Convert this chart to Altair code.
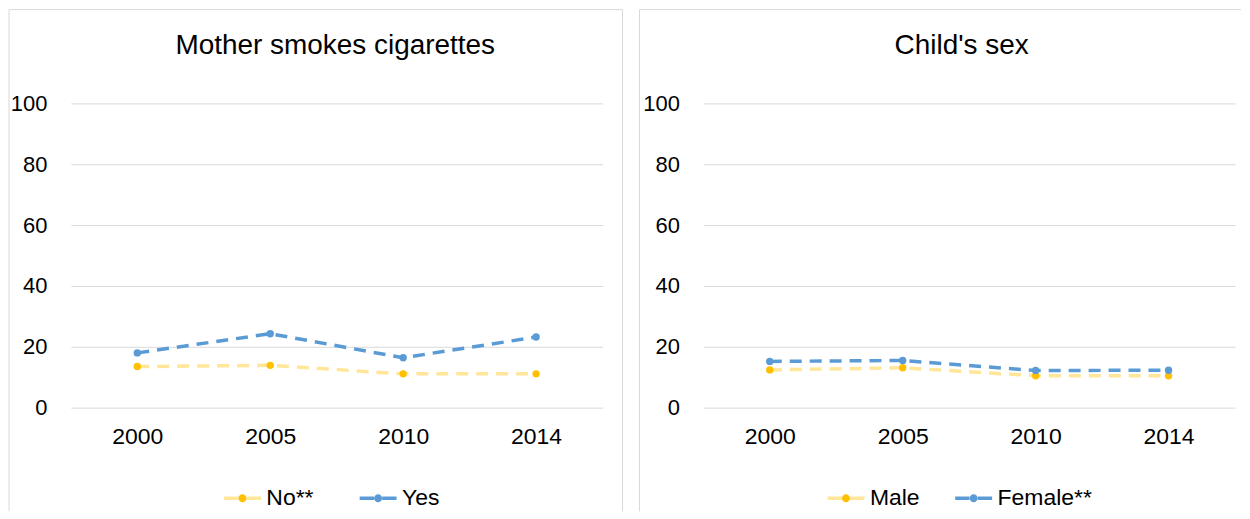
import altair as alt
import pandas as pd

years = ["2000", "2005", "2010", "2014"]

smoke_title = "Mother smokes cigarettes"
smoke_series = ["No**", "Yes"]
smoke_no = [13.5, 13.9, 11.1, 11.1]
smoke_yes = [18.0, 24.3, 16.4, 23.2]

sex_title = "Child's sex"
sex_series = ["Male", "Female**"]
sex_male = [12.4, 13.1, 10.5, 10.5]
sex_female = [15.2, 15.5, 12.2, 12.3]

line_colors = ["#FFE699", "#5B9BD5"]
marker_colors = ["#FFC000", "#5B9BD5"]

W, H = 533, 305
FONT = "Liberation Sans"
GRID = "#D9D9D9"

# legend symbols drawn at 4px per unit: a 37px line with a gap, and the dot in that gap
LINE_SYMBOL = "M-1,0L2.6,0M4.65,0L8.25,0"
DOT_SYMBOL = "M4.625,0A1,1,0,1,1,2.625,0A1,1,0,1,1,4.625,0Z"


def panel(title, names, first, second, legend_x, col_pad, left, right, title_x):
    df = pd.DataFrame({
        "year": years * 2,
        "value": first + second,
        "series": [names[0]] * 4 + [names[1]] * 4,
    })
    df["marker"] = df["series"]

    x = alt.X("year:O", title=None,
              scale=alt.Scale(type="point", padding=0.5),
              axis=alt.Axis(labelAngle=0, ticks=False, domain=False, grid=False,
                            labelPadding=18, labelFontSize=23))
    y = alt.Y("value:Q", title=None,
              scale=alt.Scale(domain=[0, 100], nice=False),
              axis=alt.Axis(values=[0, 20, 40, 60, 80, 100], ticks=False, domain=False,
                            grid=True, gridColor=GRID, labelPadding=24))

    leg = dict(orient="none", legendX=legend_x, legendY=384, direction="horizontal",
               title=None, labelFont=FONT, labelFontSize=23, labelColor="black",
               labelOffset=27, columnPadding=col_pad, symbolSize=64, padding=0)

    lines = alt.Chart(df).mark_line(strokeDash=[12, 8], strokeWidth=3.5).encode(
        x=x, y=y,
        stroke=alt.Stroke("series:N", sort=names, scale=alt.Scale(range=line_colors),
                          legend=alt.Legend(symbolType=LINE_SYMBOL, symbolStrokeWidth=3.5,
                                            symbolDash=[1, 0], **leg)),
    )
    dots = alt.Chart(df).mark_point(filled=True, size=55, opacity=1).encode(
        x=x, y=y,
        fill=alt.Fill("marker:N", sort=names, scale=alt.Scale(range=marker_colors),
                      legend=alt.Legend(symbolType=DOT_SYMBOL, labelOpacity=0,
                                        symbolStrokeWidth=0, **leg)),
    )

    one = pd.DataFrame({"k": [0]})
    top = -94
    bottom = 409
    frame = [
        alt.Chart(one).mark_rule(color=GRID, strokeWidth=1).encode(
            x=alt.value(left), x2=alt.value(right), y=alt.value(top), y2=alt.value(top)),
        alt.Chart(one).mark_rule(color=GRID, strokeWidth=1).encode(
            x=alt.value(left), x2=alt.value(left), y=alt.value(top), y2=alt.value(bottom)),
    ]
    if right >= 545:
        frame.append(alt.Chart(one).mark_rule(color=GRID, strokeWidth=1).encode(
            x=alt.value(right), x2=alt.value(right), y=alt.value(top), y2=alt.value(bottom)))

    heading = alt.Chart(one).mark_text(
        font=FONT, fontSize=28, color="black", align="center", baseline="alphabetic"
    ).encode(x=alt.value(title_x), y=alt.value(-50), text=alt.value(title))

    return alt.layer(*frame, heading, lines, dots).properties(width=W, height=H)


left_panel = panel(smoke_title, smoke_series, smoke_no, smoke_yes, 146, 38, -62, 553, 265)
right_panel = panel(sex_title, sex_series, sex_male, sex_female, 117, 28, -64, 539, 259)

chart = alt.hconcat(left_panel, right_panel, spacing=15).resolve_scale(
    stroke="independent", fill="independent"
).resolve_legend(
    stroke="independent", fill="independent"
).properties(
    padding=0
).configure_view(
    stroke=None
).configure_axis(
    labelFont=FONT, labelFontSize=22, labelColor="black"
)

chart.save("out.html", embed_options={"renderer": "svg", "actions": False})
